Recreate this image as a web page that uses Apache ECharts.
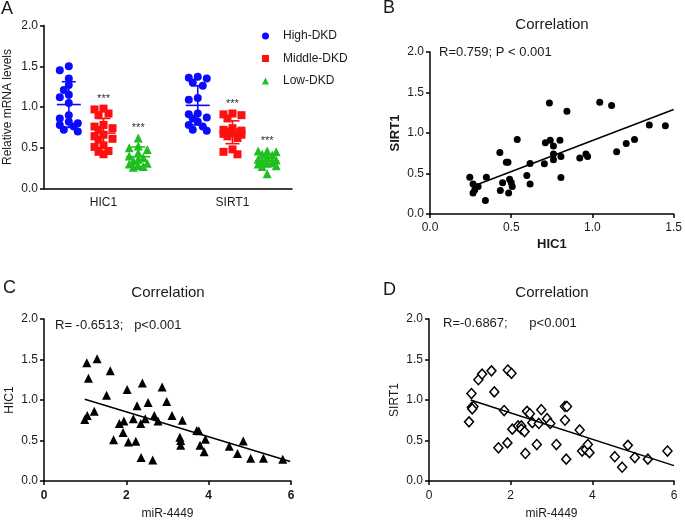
<!DOCTYPE html>
<html lang="en">
<head>
<meta charset="UTF-8">
<title>DKD expression and correlation</title>
<script src="https://cdn.jsdelivr.net/npm/echarts@6.0.0/dist/echarts.min.js"></script>
<style>
    *{margin:0;padding:0}
    #chart{width:685px;height:521px;background:#fff}
</style>
</head>
<body>
<div id="chart"></div>
<script>
// ---- panel A data (relative mRNA levels per group)
const genes = ['HIC1', 'SIRT1']
const groups = ['High-DKD', 'Middle-DKD', 'Low-DKD']
const hic1High = [1.50, 1.45, 1.35, 1.27, 1.21, 1.15, 1.12, 1.05, 0.90, 0.86, 0.82, 0.80, 0.78, 0.76, 0.72, 0.70]
const hic1Mid = [0.98, 0.97, 0.92, 0.90, 0.78, 0.76, 0.74, 0.72, 0.66, 0.64, 0.61, 0.60, 0.53, 0.51, 0.46, 0.45, 0.42]
const hic1Low = [0.62, 0.52, 0.50, 0.48, 0.44, 0.40, 0.38, 0.36, 0.34, 0.31, 0.30, 0.28, 0.27, 0.26]
const sirt1High = [1.37, 1.36, 1.35, 1.30, 1.26, 1.11, 1.09, 0.92, 0.91, 0.87, 0.86, 0.82, 0.78, 0.76, 0.72, 0.71]
const sirt1Mid = [0.92, 0.91, 0.90, 0.86, 0.74, 0.72, 0.71, 0.70, 0.69, 0.68, 0.67, 0.66, 0.64, 0.62, 0.48, 0.45, 0.42]
const sirt1Low = [0.46, 0.46, 0.45, 0.42, 0.41, 0.38, 0.36, 0.35, 0.34, 0.33, 0.31, 0.30, 0.28, 0.27, 0.18]
const meanA = [[1.03, 0.68, 0.39], [1.02, 0.69, 0.34]]
const sdA = [[0.28, 0.18, 0.12], [0.24, 0.14, 0.07]]
const sigA = ['', '***', '***']

// ---- panel B: HIC1 vs SIRT1
const hicSirt = [[0.245,0.455],[0.265,0.37],[0.276,0.30],[0.265,0.26],[0.296,0.34],[0.347,0.455],[0.341,0.166],
    [0.43,0.76],[0.433,0.29],[0.447,0.385],[0.47,0.64],[0.48,0.64],[0.484,0.26],[0.49,0.43],[0.50,0.39],[0.506,0.34],
    [0.537,0.92],[0.596,0.476],[0.616,0.625],[0.616,0.37],[0.735,1.37],[0.71,0.88],[0.74,0.91],[0.76,0.84],[0.76,0.74],
    [0.76,0.67],[0.704,0.62],[0.80,0.91],[0.806,0.71],[0.806,0.45],[0.843,1.27],[0.922,0.69],[0.96,0.74],[0.97,0.71],
    [1.045,1.38],[1.118,1.34],[1.149,0.77],[1.208,0.87],[1.259,0.92],[1.35,1.10],[1.449,1.09]]
const fitB = [[0.30, 0.37], [1.5, 1.29]]

// ---- panel C: miR-4449 vs HIC1
const mirHic = [[0.99,0.76],[1.05,0.81],[1.22,0.86],[1.04,1.46],[1.08,1.27],[1.29,1.51],[1.52,1.06],[1.61,1.36],
    [1.69,0.51],[1.83,0.71],[1.92,0.60],[1.94,0.74],[2.02,1.13],[2.05,0.48],[2.17,0.77],[2.23,0.49],[2.26,0.93],
    [2.35,0.71],[2.36,0.29],[2.39,1.21],[2.46,0.77],[2.53,0.97],[2.64,0.26],[2.68,0.81],[2.77,0.74],[2.87,1.16],
    [2.98,0.98],[3.11,0.81],[3.30,0.54],[3.32,0.50],[3.32,0.44],[3.36,0.75],[3.71,0.625],[3.76,0.62],[3.79,0.44],
    [3.89,0.36],[3.92,0.515],[4.50,0.43],[4.70,0.34],[4.84,0.495],[5.02,0.28],[5.33,0.28],[5.80,0.27]]
const fitC = [[0.99, 1.01], [5.98, 0.24]]

// ---- panel D: miR-4449 vs SIRT1
const mirSirt = [[0.98,0.73],[1.04,1.08],[1.05,0.91],[1.09,0.92],[1.06,0.89],[1.21,1.25],[1.30,1.32],[1.53,1.36],
    [1.60,1.10],[1.70,0.41],[1.84,0.87],[1.92,0.47],[1.93,1.37],[2.02,1.33],[2.04,0.64],[2.18,0.68],[2.26,0.68],
    [2.26,0.64],[2.34,0.61],[2.36,0.34],[2.40,0.86],[2.47,0.83],[2.53,0.72],[2.64,0.45],[2.69,0.71],[2.75,0.88],
    [2.89,0.77],[2.97,0.71],[3.12,0.45],[3.33,0.75],[3.33,0.92],[3.38,0.92],[3.36,0.27],[3.69,0.63],[3.75,0.37],
    [3.84,0.39],[3.89,0.45],[3.93,0.35],[4.55,0.30],[4.73,0.17],[4.87,0.44],[5.04,0.29],[5.36,0.27],[5.84,0.37]]
const fitD = [[1.02, 1.0], [6.0, 0.19]]

const font = 'Liberation Sans, Arial, sans-serif'
const ink = '#1a1a1a'
const colors = ['#0a0aff', '#ff1010', '#1fbf1f']
const symbols = ['circle', 'rect', 'triangle']

// layout of panel A along its hidden value axis
const gridA = {left: 44, top: 25.5, width: 248, height: 163}
const xMaxA = 7.5
const geneX = [1.8, 5.7]
const groupShift = [-1.05, 0, 1.05]
const pxPerX = gridA.width / xMaxA
const pxPerY = gridA.height / 2

// spread points of one group sideways so they do not pile up (dot plot style)
function spread(values) {
    const placed = []
    const out = []
    const steps = [0, -5, 5, -9, 9]
    values.slice().sort((a, b) => b - a).forEach(v => {
        const py = v * pxPerY
        let best = 0, bestD = -1
        for (const s of steps) {
            const d = placed.length ? Math.min(...placed.map(p => Math.hypot(s - p[0], py - p[1]))) : 99
            if (d >= 6.5) { best = s; bestD = d; break }
            if (d > bestD) { best = s; bestD = d }
        }
        placed.push([best, py])
        out.push([best / pxPerX, v])
    })
    return out
}

const panelA = [[hic1High, hic1Mid, hic1Low], [sirt1High, sirt1Mid, sirt1Low]]

let seriesA = groups.map((g, gi) => {
    let data = []
    genes.forEach((gene, k) => {
        spread(panelA[k][gi]).forEach(p => data.push([geneX[k] + groupShift[gi] + p[0], p[1]]))
    })
    return {
        name: g, type: 'scatter', xAxisIndex: 0, yAxisIndex: 0,
        symbol: symbols[gi], symbolSize: gi === 2 ? 9 : 8,
        itemStyle: {color: colors[gi], opacity: 1}, data
    }
})

let barData = []
genes.forEach((gene, k) => {
    groups.forEach((g, gi) => {
        barData.push([geneX[k] + groupShift[gi], meanA[k][gi], sdA[k][gi], Math.max(...panelA[k][gi]), gi])
    })
})

seriesA.push({
    type: 'custom', name: 'mean', xAxisIndex: 0, yAxisIndex: 0, z: 5,
    data: barData,
    renderItem: function (params, api) {
        const x = api.value(0), m = api.value(1), s = api.value(2), top = api.value(3), gi = api.value(4)
        const c = api.coord([x, m]), hi = api.coord([x, m + s]), lo = api.coord([x, m - s]), t = api.coord([x, top])
        const st = {stroke: colors[gi], lineWidth: 1.6}
        let kids = [
            {type: 'line', shape: {x1: c[0], y1: hi[1], x2: c[0], y2: lo[1]}, style: st},
            {type: 'line', shape: {x1: c[0] - 7, y1: hi[1], x2: c[0] + 7, y2: hi[1]}, style: st},
            {type: 'line', shape: {x1: c[0] - 7, y1: lo[1], x2: c[0] + 7, y2: lo[1]}, style: st},
            {type: 'line', shape: {x1: c[0] - 12, y1: c[1], x2: c[0] + 12, y2: c[1]}, style: st}
        ]
        if (sigA[gi]) {
            kids.push({type: 'text', x: c[0], y: t[1] - 10,
                style: {text: sigA[gi], font: '11px ' + font, fill: '#333', align: 'center', verticalAlign: 'middle'}})
        }
        return {type: 'group', children: kids}
    }
})

function axisBase(gridIndex) {
    return {
        gridIndex,
        axisLine: {show: true, onZero: false, lineStyle: {color: '#000', width: 1.5}},
        axisTick: {show: true, inside: false, length: 4, lineStyle: {color: '#000', width: 1.5}},
        splitLine: {show: false},
        nameTextStyle: {color: ink, fontSize: 12, fontFamily: font},
        axisLabel: {color: ink, fontSize: 12, fontFamily: font}
    }
}

function yAxis(gridIndex, name, bold, gap) {
    let a = axisBase(gridIndex)
    Object.assign(a, {type: 'value', min: 0, max: 2, interval: 0.5, name, nameLocation: 'middle', nameGap: gap})
    a.axisLabel.formatter = v => v.toFixed(1)
    a.axisLabel.margin = 6
    if (bold) a.nameTextStyle = {color: ink, fontSize: 13, fontWeight: 'bold', fontFamily: font}
    return a
}

let xA = axisBase(0)
Object.assign(xA, {type: 'value', min: 0, max: xMaxA})
xA.axisTick = {show: false}
xA.axisLabel.customValues = geneX
xA.axisLabel.margin = 8
xA.axisLabel.formatter = v => genes[geneX.findIndex(g => Math.abs(g - v) < 1e-6)] || ''

let xB = axisBase(1)
Object.assign(xB, {type: 'value', min: 0, max: 1.5, interval: 0.5, name: 'HIC1', nameLocation: 'middle', nameGap: 24})
xB.nameTextStyle = {color: ink, fontSize: 13, fontWeight: 'bold', fontFamily: font}
xB.axisLabel.formatter = v => v.toFixed(1)
xB.axisLabel.margin = 8

let xC = axisBase(2)
Object.assign(xC, {type: 'value', min: 0, max: 6, interval: 2, name: 'miR-4449', nameLocation: 'middle', nameGap: 27})
xC.axisLabel.fontWeight = 'bold'
xC.axisLabel.margin = 9

let xD = axisBase(3)
Object.assign(xD, {type: 'value', min: 0, max: 6, interval: 2, name: 'miR-4449', nameLocation: 'middle', nameGap: 27})
xD.axisLabel.margin = 9

function label(text, x, y, size, align) {
    return {type: 'text', x, y, style: {text, font: size + 'px ' + font, fill: ink, align: align || 'left', verticalAlign: 'middle'}}
}

const option = {
    backgroundColor: '#fff',
    animation: false,
    grid: [
        gridA,
        {left: 430, top: 52, width: 245, height: 162},
        {left: 44, top: 319, width: 247, height: 163},
        {left: 429, top: 319, width: 245, height: 163}
    ],
    xAxis: [xA, xB, xC, xD],
    yAxis: [
        yAxis(0, 'Relative mRNA levels', false, 30),
        yAxis(1, 'SIRT1', true, 28),
        yAxis(2, 'HIC1', false, 28),
        yAxis(3, 'SIRT1', false, 28)
    ],
    legend: {
        data: groups.map((g, gi) => ({name: g, icon: symbols[gi]})),
        orient: 'vertical', left: 257, top: 25,
        itemWidth: 7, itemHeight: 7, itemGap: 10.5,
        textStyle: {color: ink, fontSize: 12, fontFamily: font, padding: [0, 0, 0, 9]}
    },
    graphic: [
        label('A', 1, 9, 18),
        label('B', 383, 8, 18),
        label('C', 3, 288, 18),
        label('D', 383, 290, 18),
        label('Correlation', 552, 25, 15, 'center'),
        label('Correlation', 168, 293, 15, 'center'),
        label('Correlation', 552, 293, 15, 'center'),
        label('R=0.759; P < 0.001', 439, 52, 13),
        label('R= -0.6513;   p<0.001', 55, 325, 13),
        label('R=-0.6867;      p<0.001', 443, 323, 13)
    ],
    series: seriesA.concat([
        {type: 'scatter', xAxisIndex: 1, yAxisIndex: 1, symbol: 'circle', symbolSize: 7,
            itemStyle: {color: '#000', opacity: 1}, data: hicSirt},
        {type: 'line', xAxisIndex: 1, yAxisIndex: 1, showSymbol: false, data: fitB,
            lineStyle: {color: '#000', width: 1.5}},
        {type: 'scatter', xAxisIndex: 2, yAxisIndex: 2, symbol: 'triangle', symbolSize: 9,
            itemStyle: {color: '#000', opacity: 1}, data: mirHic},
        {type: 'line', xAxisIndex: 2, yAxisIndex: 2, showSymbol: false, data: fitC,
            lineStyle: {color: '#000', width: 1.5}},
        {type: 'scatter', xAxisIndex: 3, yAxisIndex: 3, symbol: 'diamond', symbolSize: [9, 10],
            itemStyle: {color: '#fff', borderColor: '#000', borderWidth: 1.5, opacity: 1}, data: mirSirt},
        {type: 'line', xAxisIndex: 3, yAxisIndex: 3, showSymbol: false, data: fitD,
            lineStyle: {color: '#000', width: 1.5}}
    ])
}

const chart = echarts.init(document.getElementById('chart'))
chart.setOption(option)
</script>
</body>
</html>
